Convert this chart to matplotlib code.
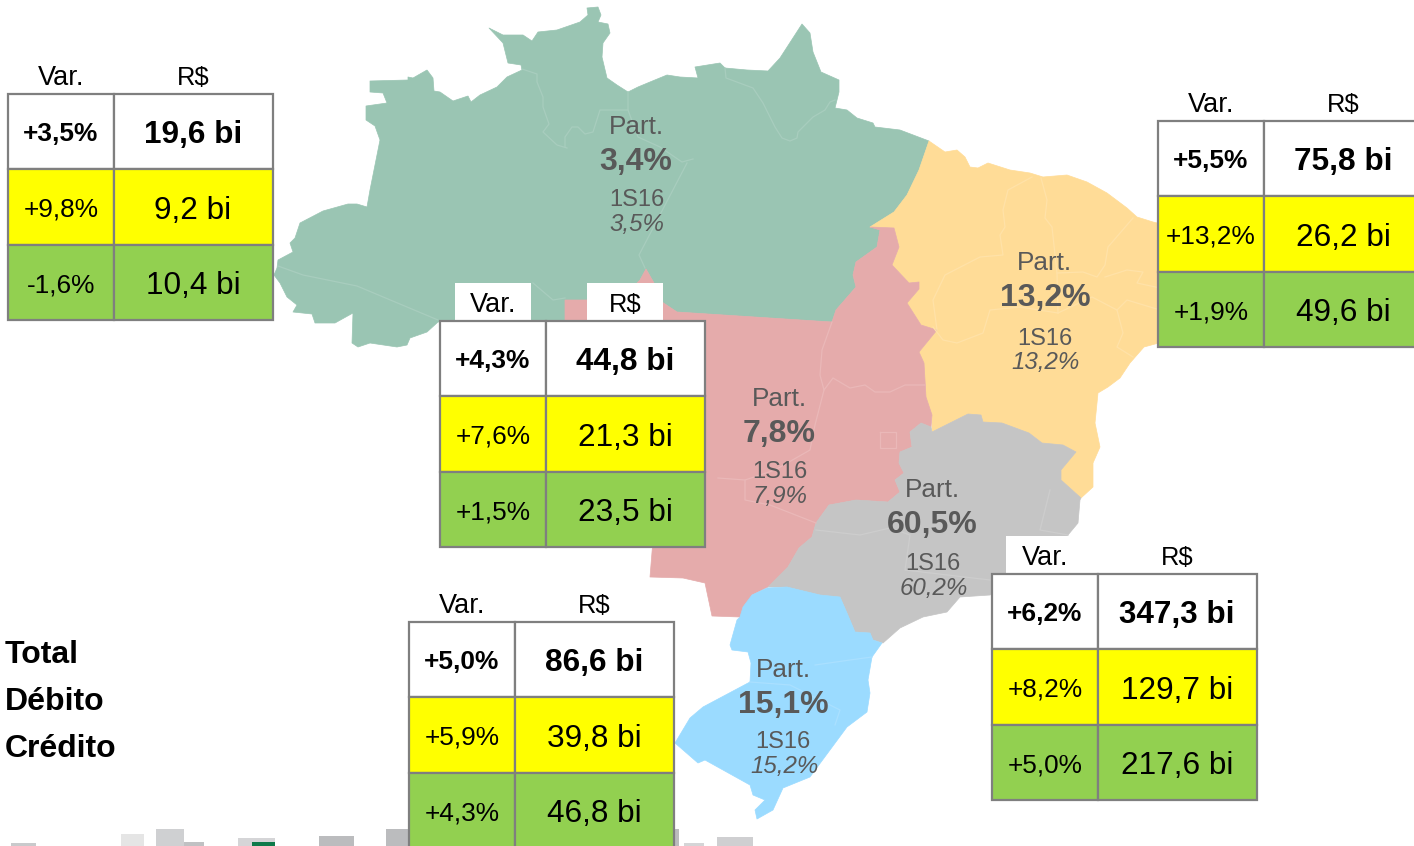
import matplotlib
matplotlib.use("Agg")
import matplotlib.pyplot as plt
from matplotlib.patches import Polygon, Rectangle

plt.rcParams['font.family'] = ['Liberation Sans', 'DejaVu Sans']

# ---- data -----
regions = ["Norte", "Nordeste", "Centro-Oeste", "Sudeste", "Sul"]
part = ["3,4%", "13,2%", "7,8%", "60,5%", "15,1%"]
part_1s16 = ["3,5%", "13,2%", "7,9%", "60,2%", "15,2%"]
var_total = ["+3,5%", "+5,5%", "+4,3%", "+6,2%", "+5,0%"]
var_debito = ["+9,8%", "+13,2%", "+7,6%", "+8,2%", "+5,9%"]
var_credito = ["-1,6%", "+1,9%", "+1,5%", "+5,0%", "+4,3%"]
rs_total = ["19,6 bi", "75,8 bi", "44,8 bi", "347,3 bi", "86,6 bi"]
rs_debito = ["9,2 bi", "26,2 bi", "21,3 bi", "129,7 bi", "39,8 bi"]
rs_credito = ["10,4 bi", "49,6 bi", "23,5 bi", "217,6 bi", "46,8 bi"]
row_labels = ["Total", "Débito", "Crédito"]

# region outlines (image coordinates)
outline_norte = [(489,28),(503,35),(523,35),(532,41),(538,32),(557,30),(580,22),(588,15),(587,8),(598,7),(601,15),
    (598,22),(608,24),(610,33),(603,43),(602,57),(607,78),(617,85),(628,92),(638,87),(650,82),(667,75),(680,77),
    (698,78),(695,67),(720,63),(725,68),(747,70),(768,71),(780,58),(802,24),(810,33),(813,52),(821,72),(839,80),
    (839,92),(835,108),(847,110),(857,118),(873,123),(875,127),(900,130),(929,141),(919,170),(907,195),(894,212),
    (870,227),(880,230),(877,247),(856,262),(853,275),(856,287),(836,310),(832,322),(677,312),(662,302),
    (654,283),(646,269),(640,280),(620,300),(565,300),(565,322),(438,322),(427,332),(410,338),(407,345),(397,347),
    (370,343),(358,347),(352,343),(353,313),(335,323),(315,323),(312,314),(293,312),(297,305),(287,297),(280,283),
    (274,275),(277,268),(278,260),(293,252),(290,243),(295,238),(300,223),(323,211),(348,204),(357,204),(367,207),
    (370,190),(380,140),(375,126),(366,120),(366,106),(387,103),(383,93),(370,92),(370,81),(408,80),(408,77),
    (413,78),(427,70),(433,78),(434,91),(440,92),(453,101),(468,96),(471,102),(480,95),(497,87),(507,77),(522,70),
    (521,65),(508,63),(503,43)]
outline_nordeste = [(929,141),(945,152),(957,150),(965,157),(970,167),(978,168),(988,163),(1010,170),(1030,173),
    (1043,177),(1067,175),(1087,182),(1107,193),(1127,208),(1137,217),(1153,222),(1170,226),(1170,340),(1144,347),
    (1130,363),(1120,378),(1108,387),(1098,393),(1095,423),(1100,447),(1093,463),(1093,487),(1081,498),
    (1061,480),(1061,470),(1076,452),(1063,445),(1042,443),(1029,433),(1002,423),(983,422),(981,415),
    (968,414),(932,432),(932,415),(926,397),(924,363),(919,352),(937,330),(921,325),(907,303),(919,289),
    (919,282),(909,283),(892,265),(899,247),(894,228),(870,227),(894,212),(907,195),(919,170)]
outline_centro = [(870,227),(894,228),(899,247),(892,265),(909,283),(919,282),(919,289),(907,303),(921,325),
    (937,330),(919,352),(924,363),(926,397),(932,415),(931,427),(921,423),(910,432),(912,447),(900,452),
    (899,463),(904,473),(895,480),(900,492),(888,502),(856,500),(829,505),(816,523),(812,537),(799,548),
    (788,567),(768,587),(752,595),(740,617),(712,616),(705,583),(683,578),(650,577),(653,540),(600,400),
    (565,322),(565,300),(620,300),(640,280),(646,269),(654,283),(662,302),(677,312),(832,322),(836,310),
    (856,287),(853,275),(856,262),(877,247),(880,230)]
outline_sudeste = [(932,432),(968,414),(981,415),(983,422),(1002,423),(1029,433),(1042,443),(1063,445),
    (1076,452),(1061,470),(1061,480),(1081,498),(1080,500),(1078,523),(1068,535),(1040,560),(1000,590),
    (990,595),(960,597),(947,612),(923,617),(900,628),(883,643),(873,640),(870,633),(855,632),(847,613),
    (840,597),(820,595),(787,587),(768,587),(788,567),(799,548),(812,537),(816,523),(829,505),(856,500),
    (888,502),(900,492),(895,480),(904,473),(899,463),(900,452),(912,447),(910,432),(921,423),(931,427)]
outline_sul = [(752,595),(767,588),(787,587),(820,595),(840,597),(847,613),(855,632),(870,633),(873,640),
    (882,643),(872,657),(868,680),(870,693),(867,712),(847,727),(830,750),(810,777),(783,788),(773,810),
    (757,819),(755,810),(765,800),(753,795),(750,785),(723,770),(705,760),(698,763),(675,743),(690,718),
    (703,707),(750,682),(751,663),(748,652),(732,650),(730,645),(737,620),(740,617),(743,607)]
outlines = [outline_norte, outline_nordeste, outline_centro, outline_sudeste, outline_sul]
fills = ["#9AC5B3", "#FFDC97", "#E5ABAB", "#C5C5C5", "#9BDBFF"]
border_tints = ["#A8CDBE", "#FFE2A8", "#EAB8B8", "#CDCDCD", "#AAE0FF"]

# internal state borders (image coordinates), per region
borders = [
    [[(522,69),(537,74),(537,82),(543,97),(543,107),(549,124),(543,132),(557,145),(567,148)],
     [(565,147),(565,137),(572,127),(578,127),(585,134),(593,132),(600,110),(628,110),(628,92)],
     [(628,110),(638,137),(660,147),(682,162),(693,159)],
     [(687,163),(639,255),(645,268)],
     [(725,68),(726,78),(753,88),(763,103),(775,127),(782,138),(790,141),(797,138),(798,132),(813,117),(825,110),(830,102),(835,100)],
     [(278,266),(303,275),(357,286),(438,320)],
     [(533,283),(553,300),(565,298)]],
    [[(1032,177),(1008,190),(1003,210),(1005,227),(1000,235),(1003,255),(980,257),(945,275),(933,300),(937,330)],
     [(1041,178),(1047,200),(1045,218),(1052,227),(1057,273),(1058,313)],
     [(1133,218),(1108,247),(1105,265),(1097,277),(1083,272),(1057,273)],
     [(1105,277),(1127,270),(1143,272),(1137,283),(1160,288)],
     [(1058,313),(1092,297),(1117,310),(1123,333),(1117,347),(1133,357)],
     [(1117,310),(1127,300),(1160,310)],
     [(1058,313),(1020,307),(990,310),(983,333),(957,343),(943,340),(933,327)]],
    [[(832,322),(822,350),(820,375),(824,390),(833,378),(850,388),(865,385),(875,392),(890,392),(905,385),(925,385)],
     [(824,390),(815,425),(810,450),(775,470),(745,480),(718,478)],
     [(745,480),(745,500),(770,505),(816,523)],
     [(880,432),(896,432),(896,448),(880,448),(880,432)]],
    [[(816,530),(860,535),(890,528),(910,535),(905,570),(990,580)],
     [(1050,490),(1040,530),(1068,535)]],
    [[(750,682),(790,685),(840,710),(835,725)],
     [(815,665),(850,660),(872,657)]],
]

tables = [(8, 94), (1158, 121), (440, 321), (992, 574), (409, 622)]
header_boxes = [False, False, True, True, False]
part_xy = [(636, 127), (1044, 263), (779, 399), (932, 490), (783, 670)]
pct_xy = [(636, 162), (1045, 298), (779, 434), (932, 525), (783, 705)]
s16_xy = [(637, 200), (1045, 339), (780, 472), (933, 564), (783, 742)]
ita_xy = [(637, 224), (1046, 363), (780, 496), (934, 588), (785, 766)]
strip = [(11,843,25,"#C9CACC"),(121,834,23,"#E5E5E5"),(156,829,28,"#CFD0D2"),(184,842,20,"#C0C1C3"),
         (238,838,37,"#D5D5D7"),(252,842,23,"#0E7A4A"),(319,836,35,"#BBBCBE"),(386,829,25,"#BBBCBE"),
         (675,829,4,"#BBBCBE"),(684,843,20,"#D5D5D7"),(717,837,36,"#CFCFD1")]

fig = plt.figure(figsize=(14.14, 8.46), dpi=100)
ax = fig.add_axes([0, 0, 1, 1])
ax.set_xlim(0, 1414)
ax.set_ylim(846, 0)
ax.axis("off")

for x, y, w, c in strip:
    ax.add_patch(Rectangle((x, y), w, 846 - y, fc=c, ec="none", zorder=1))

for pts, fc in zip(outlines, fills):
    ax.add_patch(Polygon(pts, closed=True, fc=fc, ec=fc, lw=0.5, joinstyle="round", zorder=2))
for lines, c in zip(borders, border_tints):
    for ln in lines:
        ax.plot([p[0] for p in ln], [p[1] for p in ln], color=c, lw=0.9, zorder=3)

GREY = "#595959"
for i in range(5):
    ax.text(*part_xy[i], "Part.", ha="center", va="center", fontsize=18.8, color=GREY, zorder=4)
    ax.text(*pct_xy[i], part[i], ha="center", va="center", fontsize=23, fontweight="bold", color=GREY, zorder=4)
    ax.text(*s16_xy[i], "1S16", ha="center", va="center", fontsize=17, color=GREY, zorder=4)
    ax.text(*ita_xy[i], part_1s16[i], ha="center", va="center", fontsize=17.4, style="italic", color=GREY, zorder=4)

col_w = [106, 159]
row_h = 75.5
row_fc = ["#FFFFFF", "#FFFF00", "#92D050"]
for i, (x0, y0) in enumerate(tables):
    xm = x0 + col_w[0]
    xv = x0 + 53
    xr = x0 + 185
    if header_boxes[i]:
        if i == 2:
            ax.add_patch(Rectangle((x0 + 15, y0 - 38), 76, 38, fc="white", ec="none", zorder=5))
            ax.add_patch(Rectangle((xm + 41, y0 - 38), 76, 38, fc="white", ec="none", zorder=5))
        else:
            ax.add_patch(Rectangle((x0 + 14, y0 - 38), 76, 38, fc="white", ec="none", zorder=5))
    ax.text(xv, y0 - 16, "Var.", ha="center", va="center", fontsize=19.5, color="black", zorder=6)
    ax.text(xr, y0 - 16, "R$", ha="center", va="center", fontsize=18.4, color="black", zorder=6)
    rows = [(var_total[i], rs_total[i]), (var_debito[i], rs_debito[i]), (var_credito[i], rs_credito[i])]
    for r, (v, m) in enumerate(rows):
        y = y0 + r * row_h
        for xa, w in ((x0, col_w[0]), (xm, col_w[1])):
            ax.add_patch(Rectangle((xa, y), w, row_h, fc=row_fc[r], ec="#7F7F7F", lw=1.6, zorder=5))
        fw = "bold" if r == 0 else "normal"
        ax.text(xv, y + row_h / 2 + 2.5, v, ha="center", va="center", fontsize=18.9, fontweight=fw, color="black", zorder=6)
        ax.text(xr, y + row_h / 2 + 3.5, m, ha="center", va="center", fontsize=22.7, fontweight=fw, color="black", zorder=6)

for lab, yy in zip(row_labels, (655, 702, 749)):
    ax.text(5, yy, lab, ha="left", va="center", fontsize=23, fontweight="bold", color="black", zorder=6)

fig.savefig("out.png", dpi=100, facecolor="white")
